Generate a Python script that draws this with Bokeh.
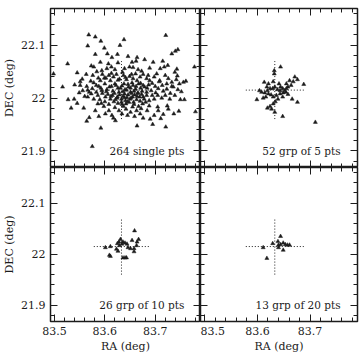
from bokeh.plotting import figure
from bokeh.layouts import gridplot
from bokeh.models import LinearAxis, FixedTicker, Label, Range1d
from bokeh.embed import file_html
from bokeh.resources import INLINE

# 264 single points
ra_single = [
    83.568, 83.581, 83.592, 83.638, 83.721, 83.566, 83.630, 83.599, 83.745, 83.740,
    83.733, 83.581, 83.605, 83.625, 83.614, 83.646, 83.664, 83.679, 83.526, 83.654,
    83.662, 83.626, 83.591, 83.696, 83.715, 83.725, 83.573, 83.578, 83.498, 83.545,
    83.563, 83.551, 83.551, 83.516, 83.584, 83.594, 83.604, 83.613, 83.620, 83.639,
    83.649, 83.666, 83.689, 83.710, 83.718, 83.739, 83.743, 83.572, 83.576, 83.587,
    83.595, 83.599, 83.608, 83.611, 83.617, 83.623, 83.629, 83.637, 83.643, 83.649,
    83.656, 83.661, 83.670, 83.676, 83.683, 83.689, 83.698, 83.703, 83.709, 83.720,
    83.726, 83.733, 83.742, 83.748, 83.564, 83.575, 83.583, 83.592, 83.600, 83.604,
    83.613, 83.620, 83.626, 83.634, 83.640, 83.646, 83.651, 83.656, 83.661, 83.667,
    83.671, 83.676, 83.684, 83.692, 83.700, 83.706, 83.714, 83.723, 83.733, 83.745,
    83.556, 83.539, 83.527, 83.533, 83.545, 83.558, 83.566, 83.573, 83.578, 83.586,
    83.590, 83.595, 83.601, 83.606, 83.611, 83.615, 83.619, 83.621, 83.625, 83.629,
    83.633, 83.636, 83.639, 83.641, 83.644, 83.646, 83.650, 83.653, 83.655, 83.659,
    83.663, 83.665, 83.669, 83.673, 83.678, 83.683, 83.688, 83.694, 83.698, 83.705,
    83.713, 83.720, 83.729, 83.739, 83.750, 83.626, 83.634, 83.642, 83.648, 83.658,
    83.667, 83.675, 83.608, 83.598, 83.586, 83.564, 83.569, 83.581, 83.588, 83.592,
    83.601, 83.608, 83.614, 83.621, 83.628, 83.634, 83.642, 83.645, 83.651, 83.659,
    83.664, 83.663, 83.670, 83.676, 83.684, 83.695, 83.698, 83.706, 83.711, 83.721,
    83.716, 83.726, 83.737, 83.747, 83.575, 83.778, 83.761, 83.756, 83.758, 83.780,
    83.603, 83.609, 83.616, 83.622, 83.628, 83.631, 83.636, 83.638, 83.643, 83.647,
    83.651, 83.654, 83.658, 83.662, 83.666, 83.671, 83.674, 83.679, 83.683, 83.687,
    83.612, 83.618, 83.624, 83.633, 83.639, 83.645, 83.652, 83.657, 83.664, 83.670,
    83.676, 83.681, 83.600, 83.594, 83.588, 83.583, 83.578, 83.569, 83.566, 83.560,
    83.555, 83.591, 83.602, 83.613, 83.626, 83.635, 83.641, 83.653, 83.664, 83.673,
    83.686, 83.694, 83.701, 83.708, 83.716, 83.723, 83.730, 83.736, 83.744, 83.752,
    83.620, 83.637, 83.655, 83.672, 83.688, 83.705, 83.724, 83.593, 83.549, 83.540,
    83.607, 83.656, 83.690, 83.617,
]
dec_single = [
    22.120, 22.116, 22.108, 22.111, 22.119, 22.099, 22.100, 22.095, 22.092, 22.089,
    22.084, 22.083, 22.084, 22.083, 22.077, 22.079, 22.077, 22.073, 22.065, 22.068,
    22.070, 22.067, 22.068, 22.068, 22.070, 22.062, 22.061, 22.059, 22.046, 22.048,
    22.045, 22.031, 22.024, 22.021, 22.050, 22.052, 22.056, 22.059, 22.054, 22.056,
    22.059, 22.054, 22.057, 22.056, 22.059, 22.049, 22.055, 22.032, 22.043, 22.038,
    22.045, 22.038, 22.043, 22.033, 22.040, 22.045, 22.036, 22.043, 22.035, 22.041,
    22.037, 22.046, 22.040, 22.045, 22.037, 22.033, 22.040, 22.046, 22.033, 22.043,
    22.037, 22.030, 22.035, 22.027, 22.022, 22.018, 22.024, 22.019, 22.027, 22.016,
    22.022, 22.027, 22.019, 22.023, 22.016, 22.026, 22.019, 22.024, 22.017, 22.027,
    22.019, 22.024, 22.019, 22.014, 22.022, 22.018, 22.024, 22.017, 22.022, 22.016,
    22.014, 21.998, 21.997, 21.981, 21.990, 21.981, 22.002, 22.008, 21.998, 22.005,
    21.997, 22.009, 22.002, 22.007, 21.998, 22.005, 22.009, 21.997, 22.002, 22.006,
    21.998, 22.003, 22.008, 21.995, 22.001, 22.006, 21.998, 22.009, 22.002, 22.006,
    21.997, 22.009, 22.002, 22.007, 21.998, 22.005, 21.995, 22.005, 21.998, 22.005,
    22.000, 22.005, 21.998, 22.005, 21.997, 21.990, 21.988, 21.989, 21.992, 21.988,
    21.984, 21.989, 21.988, 21.984, 21.989, 21.956, 21.963, 21.976, 21.965, 21.943,
    21.970, 21.976, 21.967, 21.957, 21.976, 21.970, 21.979, 21.967, 21.973, 21.965,
    21.947, 21.976, 21.970, 21.962, 21.976, 21.950, 21.967, 21.976, 21.961, 21.945,
    21.969, 21.979, 21.970, 21.975, 21.908, 22.059, 22.032, 22.030, 21.997, 21.974,
    22.012, 22.021, 22.013, 22.024, 22.011, 22.019, 22.012, 22.027, 22.015, 22.021,
    22.011, 22.029, 22.013, 22.022, 22.010, 22.028, 22.013, 22.021, 22.011, 22.025,
    22.003, 21.993, 22.000, 21.992, 22.001, 21.993, 22.000, 21.992, 22.003, 21.994,
    22.002, 21.992, 21.993, 22.014, 22.022, 22.011, 22.029, 22.011, 22.015, 22.003,
    22.036, 22.033, 22.038, 22.047, 22.034, 22.049, 22.039, 22.045, 22.033, 22.051,
    22.043, 22.028, 22.010, 22.031, 22.013, 22.027, 22.009, 22.021, 22.042, 22.012,
    21.982, 21.984, 21.983, 21.980, 21.985, 21.983, 21.985, 21.990, 22.010, 22.025,
    22.065, 22.058, 21.960, 21.962,
]

# 52 groups of 5 points
ra_grp5 = [
    83.644, 83.632, 83.632, 83.613, 83.621, 83.630, 83.641, 83.661, 83.668, 83.671,
    83.676, 83.688, 83.664, 83.658, 83.655, 83.648, 83.643, 83.638, 83.633, 83.629,
    83.624, 83.619, 83.614, 83.608, 83.604, 83.621, 83.626, 83.616, 83.611, 83.630,
    83.636, 83.643, 83.649, 83.654, 83.658, 83.666, 83.676, 83.648, 83.639, 83.634,
    83.630, 83.624, 83.619, 83.627, 83.633, 83.648, 83.710, 83.652, 83.599, 83.618,
    83.644, 83.655,
]
dec_grp5 = [
    22.059, 22.052, 22.046, 22.030, 22.027, 22.031, 22.027, 22.033, 22.031, 22.040,
    22.035, 22.026, 22.024, 22.021, 22.018, 22.018, 22.014, 22.016, 22.021, 22.018,
    22.018, 22.014, 22.010, 22.011, 22.014, 22.008, 22.006, 22.002, 22.000, 22.002,
    22.005, 22.008, 22.010, 22.011, 22.007, 21.998, 21.992, 22.002, 21.998, 21.993,
    21.989, 21.984, 21.981, 21.979, 21.973, 21.965, 21.954, 22.014, 21.997, 22.021,
    22.021, 22.027,
]

# 26 groups of 10 points
ra_grp10 = [
    83.659, 83.631, 83.636, 83.628, 83.640, 83.625, 83.634, 83.644, 83.629, 83.623,
    83.626, 83.646, 83.651, 83.658, 83.658, 83.654, 83.664, 83.667, 83.663, 83.601,
    83.611, 83.609, 83.611, 83.636, 83.640, 83.643,
]
dec_grp10 = [
    22.046, 22.029, 22.024, 22.024, 22.022, 22.021, 22.020, 22.020, 22.017, 22.010,
    22.006, 22.013, 22.011, 22.011, 22.005, 22.027, 22.024, 22.029, 22.017, 22.013,
    22.015, 21.998, 21.996, 21.993, 21.993, 21.993,
]

# 13 groups of 20 points
ra_grp20 = [83.644, 83.639, 83.629, 83.649, 83.640, 83.644, 83.653,
            83.657, 83.661, 83.640, 83.649, 83.611, 83.618]
dec_grp20 = [22.035, 22.025, 22.021, 22.022, 22.018, 22.019, 22.019,
             22.018, 22.018, 22.013, 22.008, 22.013, 21.992]

captions = ["264 single pts", "52 grp of 5 pts", "26 grp of 10 pts", "13 grp of 20 pts"]

# axes
ra_ticks = [83.5, 83.6, 83.7]
ra_tick_labels = ["83.5", "83.6", "83.7"]
dec_ticks = [21.9, 22.0, 22.1]
dec_tick_labels = ["21.9", "22", "22.1"]
ra_minor = [83.50, 83.52, 83.54, 83.56, 83.58, 83.60, 83.62, 83.64,
            83.66, 83.68, 83.70, 83.72, 83.74, 83.76, 83.78]
dec_minor = [21.88, 21.90, 21.92, 21.94, 21.96, 21.98, 22.00, 22.02,
             22.04, 22.06, 22.08, 22.10, 22.12, 22.14, 22.16]
RA_RANGE = (83.492, 83.79)
DEC_RANGE = (21.868, 22.17)

# reference cross (centre and half length, degrees)
cross_ra = 83.633
cross_dec = 22.015
cross_half = 0.055

# caption anchor
caption_ra = 83.758
caption_dec = 21.9

FONT = "DejaVu Serif"
INK = "#1c1c1c"


def style_axis(ax, ticks, minor, labels, show_labels, axis_label=None):
    ax.ticker = FixedTicker(ticks=ticks, minor_ticks=minor)
    ax.major_tick_in = 7
    ax.major_tick_out = 0
    ax.minor_tick_in = 4
    ax.minor_tick_out = 0
    ax.major_tick_line_color = INK
    ax.minor_tick_line_color = INK
    ax.major_tick_line_width = 1
    ax.minor_tick_line_width = 1
    ax.axis_line_color = None
    if show_labels:
        ax.major_label_overrides = dict(zip(ticks, labels))
        ax.major_label_text_font = FONT
        ax.major_label_text_font_size = "11px"
        ax.major_label_text_color = INK
        ax.major_label_standoff = 5
    else:
        # tick marks only on this side, no numbers
        ax.major_label_text_font_size = "0px"
        ax.major_label_text_color = None
        ax.major_label_text_alpha = 0
        ax.major_label_standoff = 0
    if axis_label:
        ax.axis_label = axis_label
        ax.axis_label_text_font = FONT
        ax.axis_label_text_font_size = "11px"
        ax.axis_label_text_font_style = "normal"
        ax.axis_label_text_color = INK
        ax.axis_label_standoff = 2


def make_panel(ra, dec, caption, width, height, borders, left_labels, bottom_labels):
    p = figure(width=width, height=height,
               x_range=Range1d(*RA_RANGE), y_range=Range1d(*DEC_RANGE),
               output_backend="svg", toolbar_location=None, tools="",
               min_border_left=borders[0], min_border_right=borders[1],
               min_border_top=borders[2], min_border_bottom=borders[3])
    p.grid.visible = False
    p.background_fill_color = "white"
    p.border_fill_color = "white"
    p.outline_line_color = INK
    p.outline_line_width = 1.5
    p.add_layout(LinearAxis(), "above")
    p.add_layout(LinearAxis(), "right")

    style_axis(p.below[0], ra_ticks, ra_minor, ra_tick_labels, bottom_labels,
               "RA (deg)" if bottom_labels else None)
    style_axis(p.above[0], ra_ticks, ra_minor, ra_tick_labels, False)
    style_axis(p.left[0], dec_ticks, dec_minor, dec_tick_labels, left_labels,
               "DEC (deg)" if left_labels else None)
    style_axis(p.right[0], dec_ticks, dec_minor, dec_tick_labels, False)

    p.segment(x0=[cross_ra - cross_half, cross_ra], y0=[cross_dec, cross_dec - cross_half],
              x1=[cross_ra + cross_half, cross_ra], y1=[cross_dec, cross_dec + cross_half],
              line_color=INK, line_width=1, line_dash="1 2")
    p.scatter(ra, dec, marker="triangle", size=4, fill_color=INK, line_color=INK,
              line_width=0.5)

    p.add_layout(Label(x=caption_ra, y=caption_dec, text=caption,
                       text_align="right", text_baseline="middle",
                       text_font=FONT, text_font_size="10.5px", text_color=INK))
    return p


tl = make_panel(ra_single, dec_single, captions[0], 200, 167, (41, 0, 8, 0), True, False)
tr = make_panel(ra_grp5, dec_grp5, captions[1], 162, 167, (0, 5, 8, 0), False, False)
bl = make_panel(ra_grp10, dec_grp10, captions[2], 200, 188, (41, 0, 0, 28), True, True)
br = make_panel(ra_grp20, dec_grp20, captions[3], 162, 188, (0, 5, 0, 28), False, True)

grid = gridplot([[tl, tr], [bl, br]], toolbar_location=None)

open("out.html", "w").write(file_html(grid, INLINE))
